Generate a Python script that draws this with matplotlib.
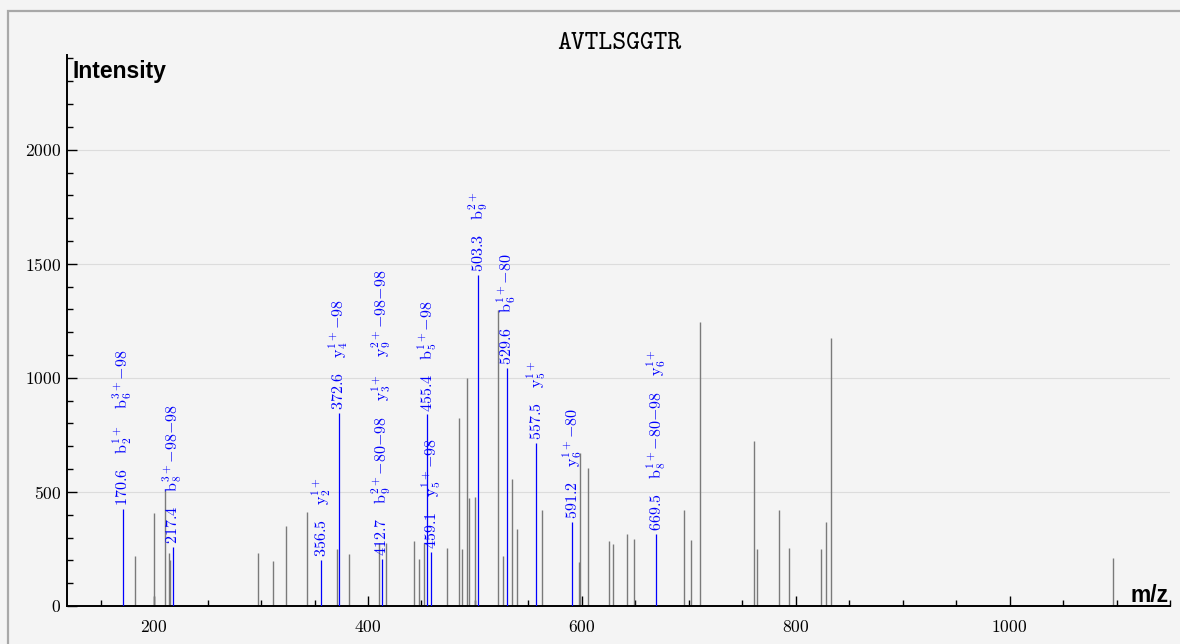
import matplotlib
matplotlib.use("Agg")
import matplotlib.pyplot as plt
from matplotlib.patches import Rectangle
from matplotlib.ticker import MultipleLocator

plt.rcParams["font.family"] = "cmr10"
plt.rcParams["mathtext.fontset"] = "cm"
plt.rcParams["axes.formatter.use_mathtext"] = True

peptide = "AVTLSGGTR"

# unannotated peaks (m/z, intensity)
peak_mz = [182.3, 200.3, 210.3, 214.3, 215.2, 297.5, 311.5, 323.6, 342.7, 370.7,
           382.0, 410.5, 416.5, 443.0, 447.7, 452.3, 473.8, 485.0, 488.0, 492.2,
           494.1, 500.0, 521.2, 526.4, 534.3, 539.5, 562.3, 597.2, 597.8, 605.6,
           625.0, 629.3, 642.4, 648.6, 695.9, 701.6, 710.8, 760.5, 763.4, 784.3,
           793.3, 823.4, 828.2, 833.4, 1096.3]
peak_int = [221, 407, 509, 234, 202, 232, 197, 351, 412, 250,
            228, 276, 278, 286, 206, 278, 254, 825, 250, 1000,
            474, 478, 1298, 219, 557, 338, 421, 194, 671, 607,
            285, 272, 316, 294, 421, 289, 1244, 725, 251, 421,
            254, 249, 366, 1175, 210]

# annotated peaks
ann_mz = [170.6, 217.4, 356.5, 372.6, 412.7, 455.4, 459.1, 503.3, 529.6, 557.5, 591.2, 669.5]
ann_int = [425, 259, 202, 846, 205, 840, 237, 1452, 1044, 715, 370, 316]
# (ion type, index, charge, neutral losses)
ann_ions = [
    [("b", 2, "1+", ""), ("b", 6, "3+", "-98")],
    [("b", 8, "3+", "-98-98")],
    [("y", 2, "1+", "")],
    [("y", 4, "1+", "-98")],
    [("b", 9, "2+", "-80-98"), ("y", 3, "1+", ""), ("y", 9, "2+", "-98-98")],
    [("b", 5, "1+", "-98")],
    [("y", 5, "1+", "-98")],
    [("b", 9, "2+", "")],
    [("b", 6, "1+", "-80")],
    [("y", 5, "1+", "")],
    [("y", 6, "1+", "-80")],
    [("b", 8, "1+", "-80-98"), ("y", 6, "1+", "")],
]

bg = "#f4f4f4"
fig = plt.figure(figsize=(11.8, 6.44), dpi=100, facecolor=bg)
ax = fig.add_axes([67 / 1180, 1 - 606 / 644, 1103 / 1180, 551 / 644])
ax.set_facecolor(bg)

ax.vlines(peak_mz, 0, peak_int, color="#7a7a7a", lw=1.0, zorder=2)
ax.vlines(ann_mz, 0, ann_int, color="#0000ff", lw=0.9, zorder=3)


def ion_label(ion):
    name, idx, charge, loss = ion
    loss = loss.replace("-", "{-}")
    return r"$\mathrm{%s}_{%d}^{%s}%s$" % (name, idx, charge, loss)


for mz, inten, ions in zip(ann_mz, ann_int, ann_ions):
    txt = "%.1f" % mz
    for ion in ions:
        txt += "   " + ion_label(ion)
    ax.annotate(txt, (mz, inten), xytext=(0, 2), textcoords="offset points",
                rotation=90, ha="center", va="bottom", color="#0000ff",
                fontsize=11.6)

ax.set_xlim(118.5, 1150)
ax.set_ylim(0, 2415)
ax.xaxis.set_major_locator(MultipleLocator(200))
ax.xaxis.set_minor_locator(MultipleLocator(50))
ax.yaxis.set_major_locator(MultipleLocator(500))
ax.yaxis.set_minor_locator(MultipleLocator(100))
ax.tick_params(which="both", direction="in", width=1.0, colors="black")
ax.tick_params(which="major", length=7.2, labelsize=12.6)
ax.tick_params(axis="x", which="major", pad=9)
ax.tick_params(axis="y", which="major", pad=4)
ax.tick_params(which="minor", length=4)
ax.grid(axis="y", which="major", color="#dcdcdc", lw=0.8, zorder=0)
ax.set_axisbelow(True)
for s in ["top", "right"]:
    ax.spines[s].set_visible(False)
for s in ["left", "bottom"]:
    ax.spines[s].set_linewidth(1.4)

fig.text(619 / 1180, 1 - 49.3 / 644, peptide, ha="center", va="baseline",
         family="cmtt10", fontsize=19)
fig.text(73 / 1180, 1 - 78 / 644, "Intensity", ha="left", va="baseline",
         family="Liberation Sans", weight="bold", fontsize=16.5)
fig.text(1169 / 1180, 1 - 602 / 644, "m/z", ha="right", va="baseline",
         family="Liberation Sans", weight="bold", fontsize=16.5)

fig.add_artist(Rectangle((8 / 1180, -0.5), 2, 0.5 + 1 - 11 / 644,
                         transform=fig.transFigure, fill=False,
                         edgecolor="#a8a8a8", lw=1.6))

fig.savefig("out.png", dpi=100, facecolor=bg)
